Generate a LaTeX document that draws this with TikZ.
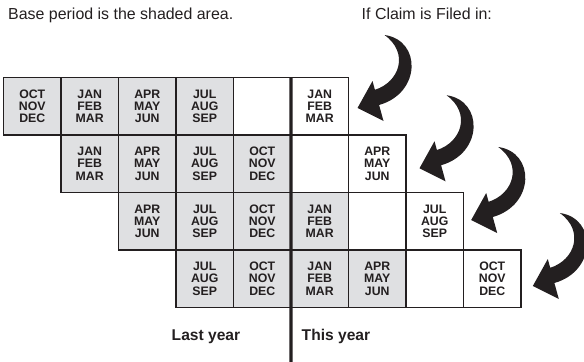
\documentclass[tikz,border=0pt]{standalone}
\usepackage{fontspec}
\setmainfont{Liberation Sans}
\definecolor{ink}{RGB}{35,31,32}
\definecolor{shade}{RGB}{223,224,226}

\begin{document}
\begin{tikzpicture}[x=0.03cm,y=-0.03cm,
  cell/.style={draw=ink,line width=1.1pt,minimum size=1.725cm,inner sep=0pt,outer sep=0pt,
    align=center,text=ink,font=\bfseries\fontsize{10.5}{10.4}\selectfont},
  shaded/.style={cell,fill=shade},
  note/.style={anchor=base west,inner sep=0pt,text=ink,font=\fontsize{13.6}{16}\selectfont},
  yearlabel/.style={anchor=base west,inner sep=0pt,text=ink,font=\bfseries\fontsize{13.3}{16}\selectfont},
  divider/.style={draw=ink,line width=2.6pt},
  claim/.pic={\fill[ink] (0,0) -- (15,-27) -- (17.4,-18.2) .. controls (42,-26) and (52,-55) .. (27,-73)
    .. controls (64,-68) and (64,-15) .. (21.6,-3) -- (26,13) -- cycle;}]
\useasboundingbox (0,0) rectangle (584,362);
\node[note] (basenote) at (8,19.5) {Base period is the shaded area.};
\node[note] (filednote) at (361.5,19) {If Claim is Filed in:};
\node[shaded] (a0) at (32.25,106.25) {OCT\\NOV\\DEC};
\node[shaded] (a1) at (89.75,106.25) {JAN\\FEB\\MAR};
\node[shaded] (a2) at (147.25,106.25) {APR\\MAY\\JUN};
\node[shaded] (a3) at (204.75,106.25) {JUL\\AUG\\SEP};
\node[cell] (a4) at (262.25,106.25) {};
\node[cell] (a5) at (319.75,106.25) {JAN\\FEB\\MAR};
\node[shaded] (b1) at (89.75,163.75) {JAN\\FEB\\MAR};
\node[shaded] (b2) at (147.25,163.75) {APR\\MAY\\JUN};
\node[shaded] (b3) at (204.75,163.75) {JUL\\AUG\\SEP};
\node[shaded] (b4) at (262.25,163.75) {OCT\\NOV\\DEC};
\node[cell] (b5) at (319.75,163.75) {};
\node[cell] (b6) at (377.25,163.75) {APR\\MAY\\JUN};
\node[shaded] (c2) at (147.25,221.25) {APR\\MAY\\JUN};
\node[shaded] (c3) at (204.75,221.25) {JUL\\AUG\\SEP};
\node[shaded] (c4) at (262.25,221.25) {OCT\\NOV\\DEC};
\node[shaded] (c5) at (319.75,221.25) {JAN\\FEB\\MAR};
\node[cell] (c6) at (377.25,221.25) {};
\node[cell] (c7) at (434.75,221.25) {JUL\\AUG\\SEP};
\node[shaded] (d3) at (204.75,278.75) {JUL\\AUG\\SEP};
\node[shaded] (d4) at (262.25,278.75) {OCT\\NOV\\DEC};
\node[shaded] (d5) at (319.75,278.75) {JAN\\FEB\\MAR};
\node[shaded] (d6) at (377.25,278.75) {APR\\MAY\\JUN};
\node[cell] (d7) at (434.75,278.75) {};
\node[cell] (d8) at (492.25,278.75) {OCT\\NOV\\DEC};
\coordinate (yearend) at (291,362);
\draw[divider] (a5.north west) -- (yearend);
\node[yearlabel] (lastyear) at (171.5,340.5) {Last year};
\node[yearlabel] (thisyear) at (301.5,340) {This year};
\pic at ([shift={(9,1.75)}]a5.east) {claim};
\pic at ([shift={(13.5,4.5)}]b6.east) {claim};
\pic at ([shift={(7.7,-1.25)}]c7.east) {claim};
\pic at ([shift={(11.8,7.25)}]d8.east) {claim};
\end{tikzpicture}
\end{document}
